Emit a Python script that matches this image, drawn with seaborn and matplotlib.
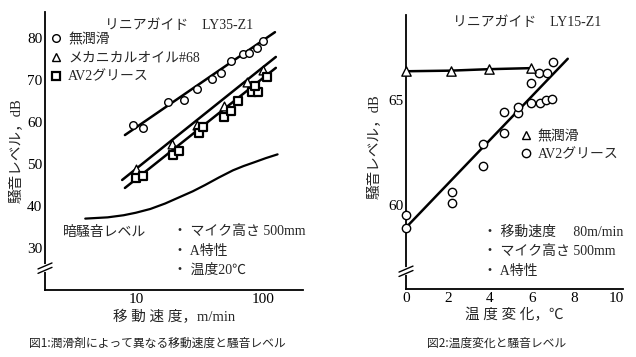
import matplotlib
matplotlib.use('Agg')
import matplotlib.pyplot as plt
import seaborn as sns
import numpy as np
import pandas as pd
from matplotlib.lines import Line2D
from matplotlib.ticker import FixedLocator, NullFormatter

# ---------------- Figure 1 data (speed m/min vs noise dB) ----------------
speed_dry = [9.5, 11.4, 17.9, 23.9, 30.2, 39.7, 46.7, 55.8, 69.6, 78, 89.8, 100]
noise_dry = [59.3, 58.6, 64.8, 65.2, 67.8, 70.2, 71.6, 74.5, 76.2, 76.5, 77.6, 79.3]
speed_oil = [10, 19.2, 30.2, 49.3, 74.9, 100]
noise_oil = [48.8, 54.8, 59.3, 63.8, 69.5, 72.4]
speed_grease = [10, 11.4, 19.6, 21.8, 31.3, 33.7, 49.3, 55.8, 63.5, 81.9, 91, 86, 107]
noise_grease = [46.7, 47.1, 52.1, 53.1, 57.4, 58.8, 61.2, 62.6, 65.0, 67.1, 67.1, 68.6, 70.7]
fit_dry_x, fit_dry_y = [8.2, 124], [56.9, 81.4]
fit_oil_x, fit_oil_y = [7.8, 126], [46.2, 75.5]
fit_grease_x, fit_grease_y = [8.2, 126], [44.3, 72.9]
bg_speed = [4, 6, 8, 10, 13, 17, 22, 28, 35, 45, 58, 70, 85, 105, 130]
bg_noise = [37.0, 37.3, 37.8, 38.4, 39.3, 40.6, 42.1, 43.5, 45.0, 46.8, 48.5, 49.5, 50.4, 51.4, 52.3]
labels1 = ['無潤滑', 'メカニカルオイル#68', 'AV2グリース']

# ---------------- Figure 2 data (temperature rise vs noise dB) ----------------
temp_dry = [0, 2.14, 3.95, 5.95]
noise2_dry = [66.4, 66.43, 66.5, 66.55]
temp_grease = [0, 0, 2.19, 2.19, 3.67, 3.67, 4.67, 4.67, 5.33, 5.33, 5.95, 5.95,
               6.38, 6.67, 6.95, 6.33, 6.71, 7.0]
noise2_grease = [59.48, 58.86, 60.62, 60.1, 61.86, 62.9, 63.43, 64.43, 64.38, 64.67,
                 64.86, 65.86, 64.9, 65.0, 65.05, 66.33, 66.33, 66.86]
fit2_x, fit2_y = [0, 7.7], [58.9, 67.0]
labels2 = ['無潤滑', 'AV2グリース']

sns.set_theme(style='white')
SERIF = ['Liberation Serif', 'Noto Sans CJK JP', 'DejaVu Sans']
plt.rcParams['font.family'] = SERIF
plt.rcParams['axes.unicode_minus'] = False

fig = plt.figure(figsize=(6.36, 3.57), dpi=100)
ax1 = fig.add_axes([45/636, 1-290/357, 258/636, 278/357])
ax2 = fig.add_axes([406/636, 1-289/357, 217/636, 274/357])

def style_axes(ax):
    for s in ['top', 'right']:
        ax.spines[s].set_visible(False)
    for s in ['left', 'bottom']:
        ax.spines[s].set_linewidth(1.3)
        ax.spines[s].set_color('black')
    ax.tick_params(which='major', direction='in', length=6, width=1.1, colors='black',
                   labelsize=11, pad=2)
    ax.tick_params(which='minor', direction='in', length=4, width=1.0, colors='black')
    ax.set_facecolor('white')

def axis_break(ax, yb):
    bb = ax.get_window_extent()
    y0, y1 = ax.get_ylim()
    fy = (yb - y0) / (y1 - y0)
    dx = 7 / bb.width
    dy = 3 / bb.height
    gap = 2.2 / bb.height
    ax.plot([0, 0], [fy - gap, fy + gap], transform=ax.transAxes, color='white',
            lw=3, clip_on=False, zorder=5)
    for off in (-gap, gap):
        ax.plot([-dx, dx], [fy + off - dy, fy + off + dy], transform=ax.transAxes,
                color='black', lw=1.0, clip_on=False, zorder=6)

LW = 1.8
# ---------------- Panel 1 ----------------
ax1.set_xscale('log')
style_axes(ax1)
for fx, fy in [(fit_dry_x, fit_dry_y), (fit_oil_x, fit_oil_y), (fit_grease_x, fit_grease_y)]:
    sns.lineplot(x=fx, y=fy, ax=ax1, color='black', lw=LW, estimator=None, zorder=2)
sns.lineplot(x=bg_speed, y=bg_noise, ax=ax1, color='black', lw=1.6, estimator=None, zorder=2)
sns.scatterplot(x=speed_dry, y=noise_dry, ax=ax1, marker='o', s=30, color='white',
                edgecolor='black', linewidth=1.0, zorder=3)
sns.scatterplot(x=speed_oil, y=noise_oil, ax=ax1, marker='^', s=40, color='white',
                edgecolor='black', linewidth=1.0, zorder=3)
sns.scatterplot(x=speed_grease, y=noise_grease, ax=ax1, marker='s', s=30, color='white',
                edgecolor='black', linewidth=1.6, zorder=4)
ax1.set_xlim(1.93, 206)
ax1.set_ylim(20, 86.2)
ax1.set_xticks([10, 100], labels=['10', '100'])
ax1.xaxis.set_minor_locator(FixedLocator([3, 4, 5, 6, 7, 8, 9, 20, 30, 40, 50, 60, 70, 80, 90, 200]))
ax1.xaxis.set_minor_formatter(NullFormatter())
ax1.set_yticks([30, 40, 50, 60, 70, 80])
ax1.yaxis.set_minor_locator(FixedLocator([35, 45, 55, 65, 75, 85]))
ax1.set_xlabel('移 動 速 度，m/min', fontsize=10.5, va='top')
ax1.xaxis.set_label_coords(0.5, -0.07)
ax1.set_ylabel('騒音レベル，dB', fontsize=10.5)
ax1.yaxis.set_label_coords(-0.085, 0.5)

h1 = [Line2D([], [], marker='o', ls='none', mfc='white', mec='black', ms=5.5, mew=1.0),
      Line2D([], [], marker='^', ls='none', mfc='white', mec='black', ms=6, mew=1.0),
      Line2D([], [], marker='s', ls='none', mfc='white', mec='black', ms=5.5, mew=1.6)]
ax1.legend(h1, labels1, loc='upper left', bbox_to_anchor=(0.025, 0.925), frameon=False,
           fontsize=10, handlelength=0.7, handletextpad=0.5, labelspacing=0.42, borderpad=0,
           borderaxespad=0)
ax1.text(0.233, 0.953, 'リニアガイド　LY35-Z1', transform=ax1.transAxes, fontsize=10, va='center')
ax1.text(0.07, (290-232)/278, '暗騒音レベル', transform=ax1.transAxes, fontsize=10, va='center')
ax1.text(0.495, (290-232)/278, '・ マイク高さ 500mm', transform=ax1.transAxes, fontsize=10, va='center')
ax1.text(0.495, (290-251)/278, '・ A特性', transform=ax1.transAxes, fontsize=10, va='center')
ax1.text(0.495, (290-270)/278, '・ 温度20℃', transform=ax1.transAxes, fontsize=10, va='center')

# ---------------- Panel 2 ----------------
style_axes(ax2)
sns.lineplot(x=fit2_x, y=fit2_y, ax=ax2, color='black', lw=LW, estimator=None, zorder=2)
sns.lineplot(x=temp_dry, y=noise2_dry, ax=ax2, color='black', lw=LW, estimator=None, zorder=2)
sns.scatterplot(x=temp_dry, y=noise2_dry, ax=ax2, marker='^', s=45, color='white',
                edgecolor='black', linewidth=1.0, zorder=4, clip_on=False)
sns.scatterplot(x=temp_grease, y=noise2_grease, ax=ax2, marker='o', s=36, color='white',
                edgecolor='black', linewidth=1.0, zorder=3, clip_on=False)
ax2.set_xlim(0, 10.33)
ax2.set_ylim(55.95, 69.1)
ax2.set_xticks([0, 2, 4, 6, 8, 10])
ax2.xaxis.set_minor_locator(FixedLocator([1, 3, 5, 7, 9]))
ax2.set_yticks([60, 65])
ax2.yaxis.set_minor_locator(FixedLocator([58, 59, 61, 62, 63, 64, 66, 67, 68, 69]))
ax2.set_xlabel('温 度 変 化，℃', fontsize=10.5, va='top')
ax2.xaxis.set_label_coords(0.5, -0.068)
ax2.set_ylabel('騒音レベル，dB', fontsize=10.5)
ax2.yaxis.set_label_coords(-0.115, 0.52)

h2 = [Line2D([], [], marker='^', ls='none', mfc='white', mec='black', ms=6, mew=1.0),
      Line2D([], [], marker='o', ls='none', mfc='white', mec='black', ms=6, mew=1.0)]
ax2.legend(h2, labels2, loc='upper left', bbox_to_anchor=(0.53, 0.58), frameon=False,
           fontsize=10, handlelength=0.7, handletextpad=0.5, labelspacing=0.35, borderpad=0,
           borderaxespad=0)
ax2.text(0.217, 0.971, 'リニアガイド　LY15-Z1', transform=ax2.transAxes, fontsize=10, va='center')
ax2.text(0.355, (289-232)/274, '・ 移動速度　 80m/min', transform=ax2.transAxes, fontsize=10, va='center')
ax2.text(0.355, (289-252)/274, '・ マイク高さ 500mm', transform=ax2.transAxes, fontsize=10, va='center')
ax2.text(0.355, (289-271)/274, '・ A特性', transform=ax2.transAxes, fontsize=10, va='center')

axis_break(ax1, 25.2)
axis_break(ax2, 56.8)

fig.text(157/636, 1-343/357, '図1:潤滑剤によって異なる移動速度と騒音レベル', ha='center', va='center',
         fontsize=8.5, family=['Noto Sans CJK JP'], color='#222222')
fig.text(497/636, 1-343/357, '図2:温度変化と騒音レベル', ha='center', va='center',
         fontsize=8.5, family=['Noto Sans CJK JP'], color='#222222')

fig.savefig('out.png', dpi=100, facecolor='white')
